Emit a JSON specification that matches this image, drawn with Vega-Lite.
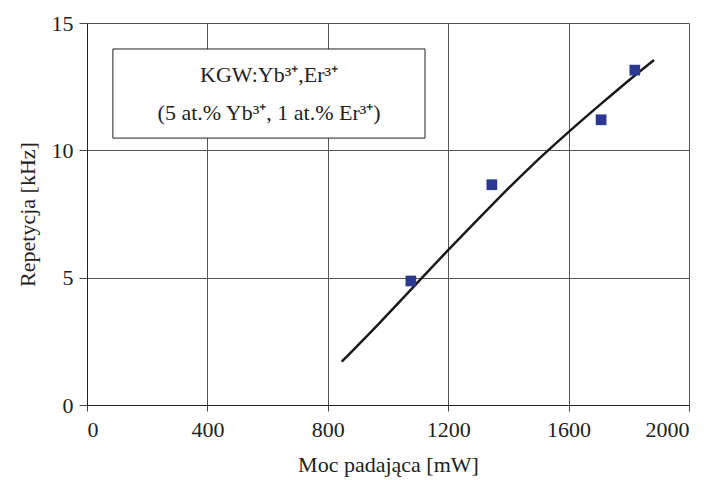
{
  "$schema": "https://vega.github.io/schema/vega-lite/v6.json",
  "width": 602,
  "height": 382,
  "autosize": {"type": "none"},
  "padding": {"left": 87, "top": 23, "right": 24, "bottom": 75},
  "background": "white",
  "config": {
    "view": {"stroke": null},
    "font": "Liberation Serif",
    "axis": {
      "labelFont": "Liberation Serif",
      "titleFont": "Liberation Serif",
      "labelFontSize": 22,
      "titleFontSize": 22,
      "titleFontWeight": "normal",
      "labelColor": "#222",
      "titleColor": "#222",
      "domainColor": "#222",
      "tickColor": "#444",
      "gridColor": "#555",
      "gridOpacity": 1,
      "gridWidth": 1
    }
  },
  "datasets": {
    "pts": [
      {"p": 1076, "r": 4.87},
      {"p": 1345, "r": 8.65},
      {"p": 1708, "r": 11.2},
      {"p": 1820, "r": 13.15}
    ],
    "fit": [
      {"p": 846, "r": 1.7},
      {"p": 973, "r": 3.22},
      {"p": 1106, "r": 4.91},
      {"p": 1200, "r": 6.09},
      {"p": 1350, "r": 7.92},
      {"p": 1465, "r": 9.28},
      {"p": 1600, "r": 10.73},
      {"p": 1715, "r": 11.9},
      {"p": 1815, "r": 12.9},
      {"p": 1884, "r": 13.55}
    ],
    "box": [{"x1": 86, "x2": 1123, "y1": 10.48, "y2": 13.98}],
    "lbl": [
      {"x": 605, "y": 12.96, "t": "KGW:Yb³⁺,Er³⁺"},
      {"x": 605, "y": 11.47, "t": "(5 at.% Yb³⁺, 1 at.% Er³⁺)"}
    ]
  },
  "layer": [
    {
      "data": {"name": "fit"},
      "mark": {"type": "line", "color": "#1a1a1a", "strokeWidth": 2.5, "interpolate": "basis"},
      "encoding": {
        "x": {
          "field": "p", "type": "quantitative",
          "scale": {"domain": [0, 2000], "nice": false},
          "axis": {"values": [0, 400, 800, 1200, 1600, 2000], "format": "d", "title": "Moc padająca [mW]", "titlePadding": 14, "labelPadding": 8, "tickSize": 6}
        },
        "y": {
          "field": "r", "type": "quantitative",
          "scale": {"domain": [0, 15], "nice": false},
          "axis": {"values": [0, 5, 10, 15], "format": "d", "title": "Repetycja [kHz]", "titlePadding": 12, "labelPadding": 6, "tickSize": 8}
        }
      }
    },
    {
      "data": {"name": "pts"},
      "mark": {"type": "square", "color": "#2b3990", "opacity": 1, "size": 115},
      "encoding": {
        "x": {"field": "p", "type": "quantitative"},
        "y": {"field": "r", "type": "quantitative"}
      }
    },
    {
      "data": {"name": "box"},
      "mark": {"type": "rect", "fill": "white", "stroke": "#222", "strokeWidth": 1},
      "encoding": {
        "x": {"field": "x1", "type": "quantitative"},
        "x2": {"field": "x2"},
        "y": {"field": "y1", "type": "quantitative"},
        "y2": {"field": "y2"}
      }
    },
    {
      "data": {"name": "lbl"},
      "mark": {"type": "text", "font": "Liberation Serif", "fontSize": 22, "color": "#222", "align": "center", "baseline": "middle"},
      "encoding": {
        "x": {"field": "x", "type": "quantitative"},
        "y": {"field": "y", "type": "quantitative"},
        "text": {"field": "t"}
      }
    }
  ]
}
